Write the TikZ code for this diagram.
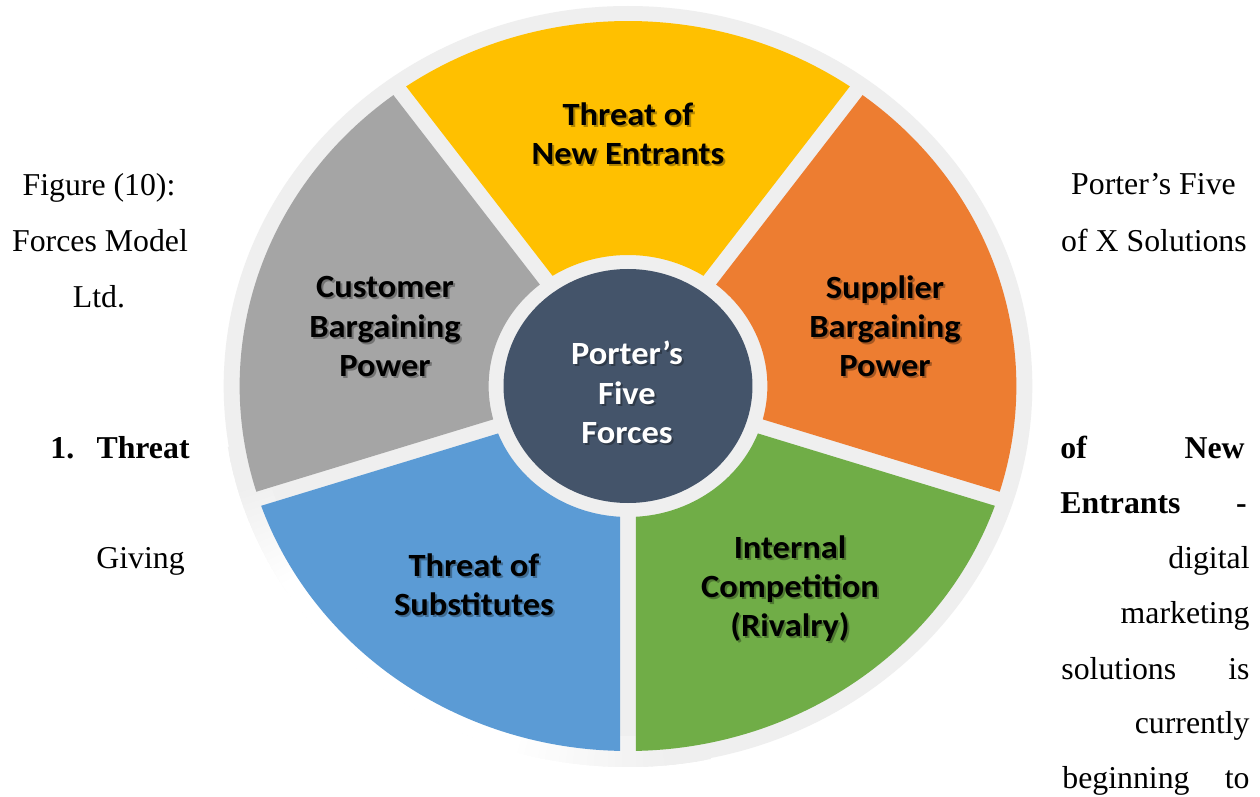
\documentclass[tikz,border=0pt]{standalone}
\usepackage{fontspec}
\setmainfont{Liberation Serif}
\newfontfamily\wheelfont[FakeStretch=1.064]{Carlito}

\definecolor{ringgray}{HTML}{EFEFEF}
\definecolor{forceyellow}{HTML}{FFC000}
\definecolor{forceorange}{HTML}{ED7D31}
\definecolor{forcegray}{HTML}{A5A5A5}
\definecolor{forceblue}{HTML}{5B9BD5}
\definecolor{forcegreen}{HTML}{70AD47}
\definecolor{forcecore}{HTML}{44546A}

% one annular sector of the wheel, with a gap on both straight sides
\newcommand{\wheelpart}[3]{%
  \fill[#3] (#1+1.162:365) arc[start angle=#1+1.162, end angle=#2-1.162, radius=365]
    -- (#2-3.238:131) arc[start angle=#2-3.238, end angle=#1+3.238, radius=131] -- cycle;}

% label with a soft drop shadow: name, x, y, text colour, text
\newcommand{\wheellabel}[5]{%
  \node[lbl, text=black, opacity=.3, xshift=1pt, yshift=-1pt] (#1-shadow) at (#2,#3) {#5};
  \node[lbl, text=#4] (#1) at (#2,#3) {#5};}

\begin{document}
\begin{tikzpicture}[x=0.5pt, y=-0.5pt,
  side/.style={inner sep=0pt, font=\fontsize{15.9}{19}\selectfont},
  sidebf/.style={inner sep=0pt, font=\fontsize{15.9}{19}\selectfont\bfseries},
  lbl/.style={align=center, inner sep=0pt, font=\wheelfont\fontsize{16.2}{19.6}\bfseries}]

\fill[white] (0,0) rectangle (1260,797);
\useasboundingbox (0,0) rectangle (1260,797);

% the wheel
\begin{scope}[shift={(628,386)}, yscale=-1, xscale=1.064]
  \fill[ringgray] (0,0) circle[radius=380];
  % the outer rim fades to white on the lower left
  \foreach \a in {190,...,280} {
    \pgfmathsetmacro{\p}{100*(1-max(0,min(1,min((\a-196)/16,(276-\a)/22))))}
    \fill[ringgray!\p!white] (\a-0.8:350) -- (\a-0.8:381)
      arc[start angle=\a-0.8, end angle=\a+1.8, radius=381]
      -- (\a+1.8:350) arc[start angle=\a+1.8, end angle=\a-0.8, radius=350] -- cycle;
  }
  \wheelpart{54}{126}{forceyellow}
  \wheelpart{126}{198}{forcegray}
  \wheelpart{198}{270}{forceblue}
  \wheelpart{-90}{-18}{forcegreen}
  \wheelpart{-18}{54}{forceorange}
  \fill[forcecore] (0,0) circle[radius=117];
\end{scope}

\wheellabel{entrants}{628}{134}{black}{Threat of\\New Entrants}
\wheellabel{customer}{385}{326.5}{black}{Customer\\Bargaining\\Power}
\wheellabel{supplier}{885}{326}{black}{Supplier\\Bargaining\\Power}
\wheellabel{rivalry}{790}{588.5}{black}{Internal\\Competition\\(Rivalry)}
\wheellabel{substitutes}{474}{585}{black}{Threat of\\Substitutes}
\wheellabel{core}{627}{392.5}{white}{Porter’s\\Five\\Forces}

% surrounding running text, left column
\node[side, anchor=base] (l1) at (99,196) {Figure (10):};
\node[side, anchor=base] (l2) at (100,251) {Forces Model};
\node[side, anchor=base] (l3) at (99,307) {Ltd.};
\node[sidebf, anchor=base west] (l4a) at (50,458) {1.};
\node[sidebf, anchor=base east] (l4b) at (190,458) {Threat};
\node[side, anchor=base] (l5) at (140.5,568) {Giving};

% right column
\node[side, anchor=base] (r1) at (1153.5,195) {Porter’s Five};
\node[side, anchor=base] (r2) at (1154,251) {of X Solutions};
\node[sidebf, anchor=base west] (r3a) at (1060,458) {of};
\node[sidebf, anchor=base east] (r3b) at (1245,458) {New};
\node[sidebf, anchor=base west] (r4a) at (1060,513) {Entrants};
\node[sidebf, anchor=base east] (r4b) at (1247,513) {-};
\node[side, anchor=base east] (r5) at (1250,568) {digital};
\node[side, anchor=base east] (r6) at (1250,623) {marketing};
\node[side, anchor=base west] (r7a) at (1061,679) {solutions};
\node[side, anchor=base east] (r7b) at (1250,679) {is};
\node[side, anchor=base east] (r8) at (1250,733) {currently};
\node[side, anchor=base west] (r9a) at (1062,788) {beginning};
\node[side, anchor=base east] (r9b) at (1250,788) {to};
\end{tikzpicture}
\end{document}
